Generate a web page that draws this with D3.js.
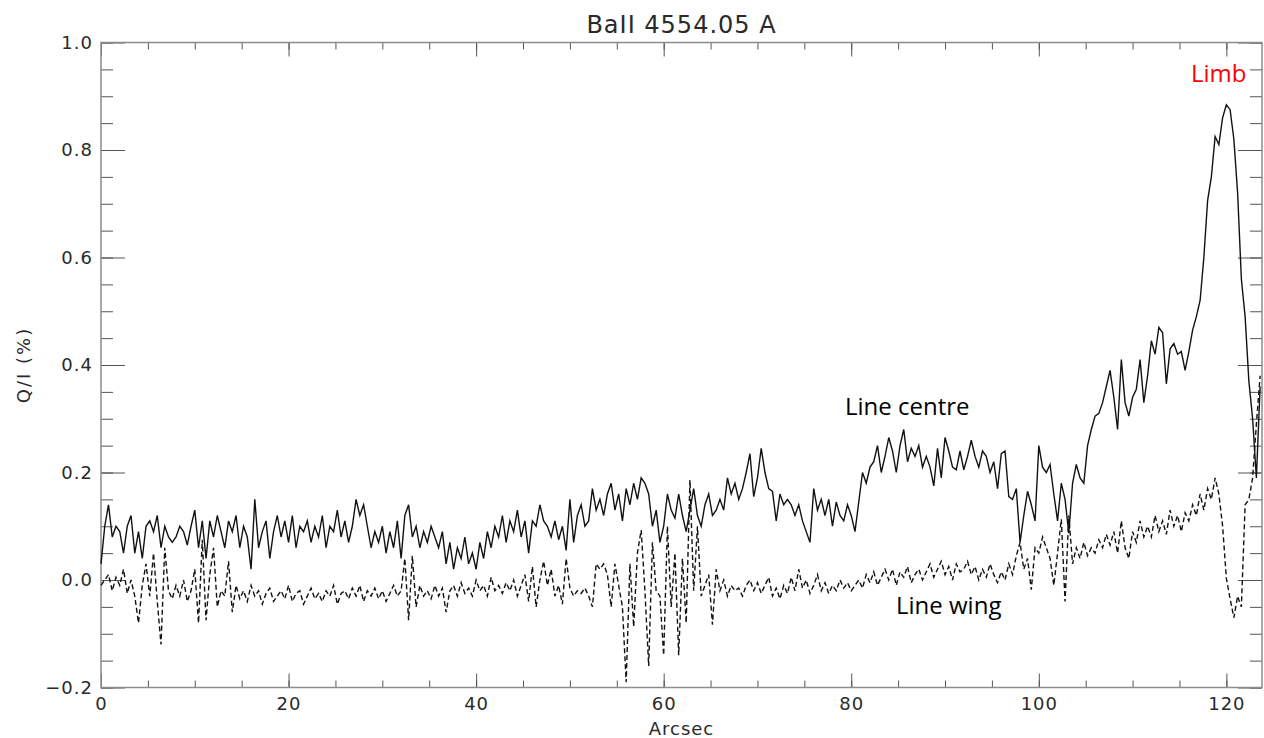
<!DOCTYPE html>
<html>
<head>
  <meta charset="utf-8">
  <script src="https://d3js.org/d3.v7.min.js"></script>
  <title>BaII 4554.05 A</title>
  <style>
    body { margin: 0; background: #fff; }
    svg text { font-family: "DejaVu Sans", sans-serif; fill: #2a2a2a; }
    .note { font-family: "Open Sans", sans-serif; fill: #000; }
  </style>
</head>
<body>
<div id="plot"></div>
<script>
// sampling of the scan along the slit (arcsec)
var arcsecStep = 0.4;

// Q/I (%) in the line centre, one value per step
var centreQ = [
  0.03, 0.10, 0.14, 0.08, 0.10, 0.09, 0.05, 0.10, 0.12, 0.05,
  0.09, 0.04, 0.10, 0.11, 0.09, 0.12, 0.06, 0.10, 0.08, 0.07,
  0.08, 0.10, 0.09, 0.065, 0.10, 0.13, 0.06, 0.11, 0.04, 0.11,
  0.08, 0.12, 0.09, 0.06, 0.11, 0.09, 0.12, 0.06, 0.10, 0.08,
  0.02, 0.15, 0.06, 0.09, 0.11, 0.04, 0.09, 0.12, 0.08, 0.11,
  0.07, 0.12, 0.06, 0.10, 0.09, 0.11, 0.07, 0.10, 0.08, 0.12,
  0.06, 0.10, 0.09, 0.13, 0.08, 0.11, 0.07, 0.10, 0.15, 0.12,
  0.14, 0.10, 0.06, 0.09, 0.07, 0.10, 0.05, 0.09, 0.06, 0.11,
  0.04, 0.12, 0.14, 0.08, 0.10, 0.06, 0.09, 0.07, 0.10, 0.08,
  0.06, 0.09, 0.03, 0.07, 0.02, 0.06, 0.04, 0.08, 0.03, 0.05,
  0.02, 0.07, 0.04, 0.09, 0.06, 0.10, 0.08, 0.12, 0.07, 0.11,
  0.09, 0.13, 0.08, 0.11, 0.05, 0.11, 0.10, 0.14, 0.11, 0.10,
  0.08, 0.11, 0.075, 0.10, 0.055, 0.15, 0.07, 0.12, 0.14, 0.10,
  0.11, 0.17, 0.13, 0.15, 0.12, 0.16, 0.18, 0.13, 0.16, 0.11,
  0.17, 0.14, 0.18, 0.15, 0.19, 0.18, 0.16, 0.10, 0.13, 0.07,
  0.10, 0.16, 0.13, 0.115, 0.16, 0.12, 0.09, 0.13, 0.17, 0.12,
  0.10, 0.14, 0.16, 0.12, 0.13, 0.15, 0.13, 0.19, 0.16, 0.18,
  0.15, 0.17, 0.20, 0.235, 0.155, 0.19, 0.245, 0.20, 0.17, 0.165,
  0.11, 0.16, 0.14, 0.15, 0.14, 0.12, 0.14, 0.11, 0.09, 0.07,
  0.17, 0.13, 0.15, 0.12, 0.15, 0.10, 0.145, 0.12, 0.11, 0.14,
  0.12, 0.09, 0.145, 0.20, 0.18, 0.21, 0.22, 0.25, 0.20, 0.23,
  0.265, 0.24, 0.20, 0.25, 0.28, 0.22, 0.245, 0.23, 0.25, 0.21,
  0.23, 0.21, 0.175, 0.245, 0.19, 0.265, 0.24, 0.21, 0.205, 0.24,
  0.205, 0.23, 0.26, 0.23, 0.21, 0.24, 0.23, 0.20, 0.22, 0.17,
  0.235, 0.24, 0.155, 0.15, 0.17, 0.07, 0.12, 0.165, 0.14, 0.11,
  0.25, 0.21, 0.20, 0.215, 0.16, 0.11, 0.18, 0.15, 0.087, 0.18,
  0.215, 0.19, 0.18, 0.25, 0.28, 0.305, 0.31, 0.33, 0.36, 0.39,
  0.34, 0.28, 0.41, 0.33, 0.305, 0.34, 0.355, 0.41, 0.33, 0.38,
  0.445, 0.42, 0.47, 0.46, 0.365, 0.43, 0.44, 0.42, 0.425, 0.39,
  0.425, 0.465, 0.49, 0.52, 0.60, 0.706, 0.75, 0.825, 0.81, 0.86,
  0.884, 0.875, 0.82, 0.72, 0.56, 0.49, 0.37, 0.30, 0.19, 0.36
];

// Q/I (%) in the line wing
var wingQ = [
  -0.01, 0.0, 0.01, -0.02, 0.005, -0.01, 0.02, -0.025, 0.0, -0.03,
  -0.08, -0.01, 0.03, -0.03, 0.05, -0.04, -0.12, 0.06, -0.02, -0.035,
  -0.01, -0.03, 0.0, -0.04, -0.02, 0.02, -0.08, 0.075, -0.075, 0.01,
  0.06, -0.05, -0.02, -0.03, 0.035, -0.06, -0.01, -0.035, -0.02, -0.04,
  -0.01, -0.03, -0.02, -0.045, -0.025, -0.015, -0.04, -0.03, -0.02, -0.035,
  -0.01, -0.04, -0.025, -0.02, -0.045, -0.03, -0.015, -0.035, -0.025, -0.04,
  -0.02, -0.03, -0.01, -0.045, -0.025, -0.02, -0.035, -0.015, -0.03, -0.01,
  -0.04, -0.02, -0.03, -0.015, -0.035, -0.02, -0.04, -0.025, -0.01, -0.03,
  -0.02, 0.04, -0.075, 0.045, -0.05, -0.01, -0.03, -0.02, -0.035, -0.01,
  -0.03, -0.015, -0.06, -0.02, -0.01, -0.03, -0.005, -0.025, -0.015, -0.03,
  0.0, -0.02, -0.01, -0.03, 0.005, -0.02, -0.01, -0.025, -0.005, -0.02,
  0.0, -0.03, -0.01, 0.01, -0.04, 0.025, -0.05, 0.0, 0.035, -0.01,
  0.02, -0.03, -0.01, -0.045, 0.04, -0.015, -0.03, -0.02, -0.025, -0.015,
  -0.03, -0.05, 0.03, 0.02, 0.03, 0.01, -0.05, 0.03, -0.01, -0.05,
  -0.19, 0.03, -0.087, 0.05, 0.093, -0.02, -0.16, 0.07, -0.02, -0.03,
  -0.14, 0.10, -0.05, 0.05, -0.14, 0.04, -0.08, 0.186, -0.02, 0.10,
  -0.03, -0.01, 0.01, -0.083, 0.02, -0.02, 0.0, -0.03, -0.01, -0.02,
  -0.015, -0.03, -0.01, 0.0, -0.02, -0.005, -0.025, -0.01, 0.005, -0.03,
  -0.015, -0.035, -0.01, -0.025, 0.005, -0.02, 0.02, -0.015, 0.0, -0.025,
  -0.01, 0.01, -0.02, -0.005, -0.025, -0.01, -0.02, 0.0, -0.015, -0.005,
  -0.02, -0.01, 0.0, -0.015, 0.01, -0.005, 0.015, -0.01, 0.005, 0.02,
  0.0, 0.02, -0.01, 0.015, 0.005, 0.025, -0.005, 0.01, 0.02, 0.0,
  0.015, 0.03, 0.005, 0.02, 0.035, 0.01, 0.025, 0.0, 0.03, 0.015,
  0.02, 0.035, 0.01, 0.025, 0.0, 0.02, 0.005, 0.03, 0.01, -0.005,
  0.015, 0.0, 0.03, 0.01, 0.045, 0.07, 0.02, 0.04, -0.018, 0.06,
  0.05, 0.08, 0.06, 0.04, -0.01, 0.05, 0.113, -0.04, 0.12, 0.03,
  0.06, 0.04, 0.07, 0.045, 0.06, 0.05, 0.075, 0.06, 0.085, 0.065,
  0.09, 0.05, 0.11, 0.06, 0.04, 0.09, 0.07, 0.11, 0.08, 0.10,
  0.08, 0.12, 0.09, 0.11, 0.085, 0.13, 0.10, 0.12, 0.09, 0.125,
  0.11, 0.14, 0.12, 0.16, 0.13, 0.17, 0.15, 0.19, 0.16, 0.10,
  0.003, -0.035, -0.07, -0.03, -0.05, 0.14, 0.15, 0.19, 0.29, 0.38
];

var xTicks = [0, 20, 40, 60, 80, 100, 120];
var xMinorTicks = d3.range(0, 124, 5);
var yTicks = [-0.2, 0.0, 0.2, 0.4, 0.6, 0.8, 1.0];
var yMinorTicks = d3.range(-0.2, 1.0001, 0.05);

var W = 1264, H = 738;
var margin = {top: 42.5, right: 2, bottom: 50.5, left: 101};
var width = W - margin.left - margin.right,
    height = H - margin.top - margin.bottom;

var svg = d3.select('#plot').append('svg')
  .attr('width', W)
  .attr('height', H);

var g = svg.append('g')
  .attr('transform', 'translate(' + margin.left + ',' + margin.top + ')');

var xScale = d3.scaleLinear().domain([0, 123.8]).range([0, width]);
var yScale = d3.scaleLinear().domain([-0.2, 1.0]).range([height, 0]);

// IDL style box: ticks point inwards on all four sides
function tickAxis(axis, ticks, size, fmt) {
  return axis.tickValues(ticks).tickSizeInner(size).tickSizeOuter(0).tickFormat(fmt);
}
var noLabel = function() { return ''; };

g.append('g').attr('class', 'axis minor')
  .attr('transform', 'translate(0,' + height + ')')
  .call(tickAxis(d3.axisBottom(xScale), xMinorTicks, -7, noLabel));
g.append('g').attr('class', 'axis minor')
  .call(tickAxis(d3.axisTop(xScale), xMinorTicks, -7, noLabel));
g.append('g').attr('class', 'axis minor')
  .call(tickAxis(d3.axisLeft(yScale), yMinorTicks, -12, noLabel));
g.append('g').attr('class', 'axis minor')
  .attr('transform', 'translate(' + width + ',0)')
  .call(tickAxis(d3.axisRight(yScale), yMinorTicks, -12, noLabel));

var xAxis = g.append('g').attr('class', 'axis')
  .attr('transform', 'translate(0,' + height + ')')
  .call(tickAxis(d3.axisBottom(xScale), xTicks, -14, d3.format('d')));
xAxis.selectAll('text').attr('y', 10).attr('dy', '0.71em');

g.append('g').attr('class', 'axis')
  .call(tickAxis(d3.axisTop(xScale), xTicks, -14, noLabel));

var yAxis = g.append('g').attr('class', 'axis')
  .call(tickAxis(d3.axisLeft(yScale), yTicks, -24,
    function(d) { return d3.format('.1f')(d).replace('-', '\u2212'); }));
yAxis.selectAll('text').attr('x', -8);

g.append('g').attr('class', 'axis')
  .attr('transform', 'translate(' + width + ',0)')
  .call(tickAxis(d3.axisRight(yScale), yTicks, -24, noLabel));

g.selectAll('.axis path').remove();
g.selectAll('.axis line').attr('stroke', '#555').attr('stroke-width', 1);
g.selectAll('.axis text')
  .style('font-size', '18px')
  .style('letter-spacing', '1px')
  .attr('fill', '#2a2a2a');

// plot frame
g.append('rect')
  .attr('width', width).attr('height', height)
  .attr('fill', 'none').attr('stroke', '#8c8c8c').attr('stroke-width', 1.5);

var line = d3.line()
  .x(function(d, i) { return xScale(i * arcsecStep); })
  .y(function(d) { return yScale(d); });

g.append('path').datum(wingQ)
  .attr('d', line)
  .attr('fill', 'none')
  .attr('stroke', '#111')
  .attr('stroke-width', 1.4)
  .attr('stroke-dasharray', '5,3');

g.append('path').datum(centreQ)
  .attr('d', line)
  .attr('fill', 'none')
  .attr('stroke', '#111')
  .attr('stroke-width', 1.4);

// title and axis labels
svg.append('text')
  .attr('x', margin.left + width / 2).attr('y', 33)
  .attr('text-anchor', 'middle')
  .style('font-size', '24px').style('letter-spacing', '1px')
  .text('BaII 4554.05 A');

svg.append('text')
  .attr('x', margin.left + width / 2).attr('y', 735)
  .attr('text-anchor', 'middle')
  .style('font-size', '18px').style('letter-spacing', '1px')
  .text('Arcsec');

svg.append('text')
  .attr('transform', 'translate(30,' + (margin.top + height / 2) + ') rotate(-90)')
  .attr('text-anchor', 'middle')
  .style('font-size', '18px').style('letter-spacing', '2px')
  .text('Q/I (%)');

// annotations
svg.append('text').attr('class', 'note')
  .attr('x', 845).attr('y', 415)
  .style('font-size', '24px')
  .text('Line centre');

svg.append('text').attr('class', 'note')
  .attr('x', 896).attr('y', 614)
  .style('font-size', '24px')
  .text('Line wing');

svg.append('text').attr('class', 'note')
  .attr('x', 1191).attr('y', 82)
  .style('font-size', '24px')
  .style('fill', '#ff0000')
  .text('Limb');
</script>
</body>
</html>
